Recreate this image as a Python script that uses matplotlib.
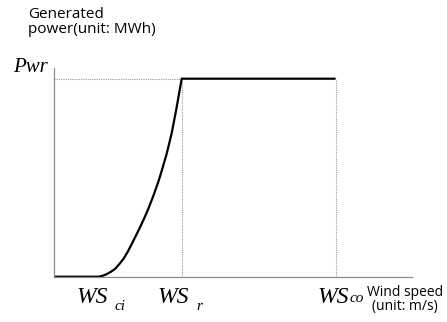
import matplotlib
matplotlib.use("Agg")
import matplotlib.pyplot as plt

# wind speed (m/s) and normalised power along the turbine curve
wind_speed = [0.0, 4.12, 4.5, 4.9, 5.3, 5.67, 6.05, 6.45, 6.85, 7.23, 7.6,
              8.0, 8.4, 8.77, 9.24, 9.7, 10.02, 10.48, 10.95, 11.41, 11.88,
              26.2]
power = [0.0, 0.0, 0.004, 0.013, 0.025, 0.039, 0.062, 0.089, 0.125, 0.165,
         0.205, 0.249, 0.296, 0.342, 0.408, 0.478, 0.535, 0.62, 0.725, 0.855,
         1.0, 1.0]

ws_ci = 4.12
ws_r = 11.88
ws_co = 26.2
pwr = 1.0

# label text, subscript and pixel offsets (main dx, sub dx, sub dy)
tick_names = ["WS", "WS", "WS"]
tick_subs = ["ci", "r", "co"]
tick_pos = [ws_ci, ws_r, ws_co]
main_dx = [-5.8, -9.0, -2.0]
sub_dx = [16.7, 15.0, 14.0]
sub_dy = [-33.0, -33.0, -25.5]

W, H = 447, 322
fig = plt.figure(figsize=(W / 100, H / 100), dpi=100)
ax = fig.add_axes([54 / W, (H - 276.7) / H, (411.5 - 54) / W, (276.7 - 68) / H])

ax.set_xlim(0, 33.26)
ax.set_ylim(0, 1.054)

for s in ["top", "right"]:
    ax.spines[s].set_visible(False)
for s in ["left", "bottom"]:
    ax.spines[s].set_color("#8c8c8c")
    ax.spines[s].set_linewidth(0.9)
ax.set_xticks([])
ax.set_yticks([])

# guide lines
ax.plot([0, ws_r], [pwr, pwr], color="#9a9a9a", lw=0.8, ls=(0, (1, 1)))
ax.plot([ws_r, ws_r], [0, pwr], color="#9a9a9a", lw=0.8, ls=(0, (1, 1)))
ax.plot([ws_co, ws_co], [0, pwr], color="#9a9a9a", lw=0.8, ls=(0, (1, 1)))

ax.plot(wind_speed, power, color="black", lw=1.6, solid_capstyle="butt",
        solid_joinstyle="round", clip_on=False)

serif = "Liberation Serif"
for name, sub, x, dx, sdx, sdy in zip(tick_names, tick_subs, tick_pos,
                                      main_dx, sub_dx, sub_dy):
    ax.annotate(name, xy=(x, 0), xytext=(dx, -26.6), textcoords="offset pixels",
                ha="center", va="baseline", fontsize=17, family=serif,
                style="italic")
    ax.annotate(sub, xy=(x, 0), xytext=(sdx, sdy), textcoords="offset pixels",
                ha="left", va="baseline", fontsize=11, family=serif,
                style="italic")

ax.annotate("Pwr", xy=(0, pwr), xytext=(-6, 6.6), textcoords="offset pixels",
            ha="right", va="baseline", fontsize=15, family=serif,
            style="italic")

sans = "Open Sans"
fig.text(27.7 / W, 1 - 7 / H, "Generated\npower(unit: MWh)", ha="left",
         va="top", fontsize=11, family=sans, linespacing=1.0)
fig.text(405 / W, 1 - 285 / H, "Wind speed\n(unit: m/s)", ha="center",
         va="top", fontsize=10, family=sans, linespacing=0.95)

fig.savefig("out.png", dpi=100)
